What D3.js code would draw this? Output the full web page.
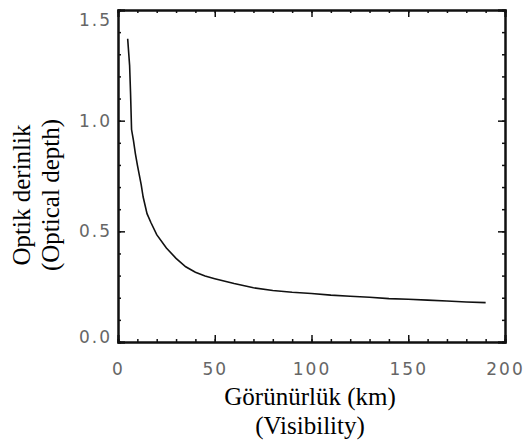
<!DOCTYPE html>
<html>
<head>
<meta charset="utf-8">
<script src="https://cdn.jsdelivr.net/npm/d3@7"></script>
<style>
html,body{margin:0;padding:0;background:#fff;}
svg{display:block;}
</style>
</head>
<body>
<svg id="chart" width="524" height="442"></svg>
<script>
// Data
const visibility = [5, 6, 6.5, 7, 8, 9, 10, 11, 12, 13, 15, 17, 20, 25, 30, 35, 40, 45, 50, 60, 70, 80, 90, 100, 110, 120, 130, 140, 150, 160, 170, 180, 190];
const opticalDepth = [1.37, 1.25, 1.12, 0.96, 0.91, 0.85, 0.80, 0.755, 0.71, 0.655, 0.58, 0.54, 0.485, 0.425, 0.378, 0.34, 0.315, 0.298, 0.286, 0.264, 0.245, 0.233, 0.225, 0.219, 0.212, 0.207, 0.202, 0.196, 0.193, 0.189, 0.185, 0.181, 0.178];
const xTicks = [0, 50, 100, 150, 200];
const xTickLabels = ["0", "50", "100", "150", "200"];
const yTicks = [0, 0.5, 1.0, 1.5];
const yTickLabels = ["0.0", "0.5", "1.0", "1.5"];
const xTitle = ["Görünürlük (km)", "(Visibility)"];
const yTitle = ["Optik derinlik", "(Optical depth)"];

const svg = d3.select("#chart");
const L = 118, R = 505, T = 10, B = 342;
const x = d3.scaleLinear().domain([0, 200]).range([L, R]);
const y = d3.scaleLinear().domain([0, 1.5]).range([B, T]);

const xMinor = d3.range(0, 201, 10);
const yMinor = d3.range(0, 1.51, 0.1).map(v => +v.toFixed(2));

function styleAxis(g) {
  g.select(".domain").attr("stroke", "#111").attr("stroke-width", 2);
  g.selectAll(".tick line").attr("stroke", "#111").attr("stroke-width", 1.5);
}

// Minor ticks (inward) on all four sides
const minorLen = 3, majorLen = 7;
svg.append("g").attr("transform", `translate(0,${B})`)
  .call(d3.axisBottom(x).tickValues(xMinor).tickSize(-minorLen).tickFormat(""))
  .call(styleAxis);
svg.append("g").attr("transform", `translate(0,${T})`)
  .call(d3.axisTop(x).tickValues(xMinor).tickSize(-minorLen).tickFormat(""))
  .call(styleAxis);
svg.append("g").attr("transform", `translate(${L},0)`)
  .call(d3.axisLeft(y).tickValues(yMinor).tickSize(-minorLen).tickFormat(""))
  .call(styleAxis);
svg.append("g").attr("transform", `translate(${R},0)`)
  .call(d3.axisRight(y).tickValues(yMinor).tickSize(-minorLen).tickFormat(""))
  .call(styleAxis);

// Major ticks
const labelFont = "'DejaVu Sans', sans-serif";
const gxb = svg.append("g").attr("transform", `translate(0,${B})`)
  .call(d3.axisBottom(x).tickValues(xTicks).tickSize(-majorLen).tickPadding(21)
    .tickFormat((d, i) => xTickLabels[i]))
  .call(styleAxis);
svg.append("g").attr("transform", `translate(0,${T})`)
  .call(d3.axisTop(x).tickValues(xTicks).tickSize(-majorLen).tickFormat(""))
  .call(styleAxis);
const gyl = svg.append("g").attr("transform", `translate(${L},0)`)
  .call(d3.axisLeft(y).tickValues(yTicks).tickSize(-majorLen).tickPadding(6)
    .tickFormat((d, i) => yTickLabels[i]))
  .call(styleAxis);
svg.append("g").attr("transform", `translate(${R},0)`)
  .call(d3.axisRight(y).tickValues(yTicks).tickSize(-majorLen).tickFormat(""))
  .call(styleAxis);

[gxb, gyl].forEach(g => g.selectAll(".tick text")
  .attr("font-family", labelFont).attr("font-size", 17)
  .attr("fill", "#666").attr("letter-spacing", 2));
gyl.selectAll(".tick text").filter(d => d === 1.5).attr("dy", "0.9em");
gyl.selectAll(".tick text").filter(d => d === 0).attr("dy", "0.03em");

// Curve
const line = d3.line().x((d, i) => x(visibility[i])).y(d => y(d));
svg.append("path").datum(opticalDepth)
  .attr("d", line).attr("fill", "none").attr("stroke", "#111").attr("stroke-width", 1.6);

// Titles
const titleFont = "'Liberation Serif', 'Times New Roman', serif";
svg.append("g").selectAll("text").data(xTitle).join("text")
  .attr("x", 310).attr("y", (d, i) => 405 + i * 29)
  .attr("text-anchor", "middle").attr("font-family", titleFont).attr("font-size", 25)
  .attr("fill", "#000").text(d => d);
svg.append("g").selectAll("text").data(yTitle).join("text")
  .attr("transform", (d, i) => `translate(${30 + i * 29},195) rotate(-90)`)
  .attr("text-anchor", "middle").attr("font-family", titleFont).attr("font-size", 25)
  .attr("fill", "#000").text(d => d);
</script>
</body>
</html>
